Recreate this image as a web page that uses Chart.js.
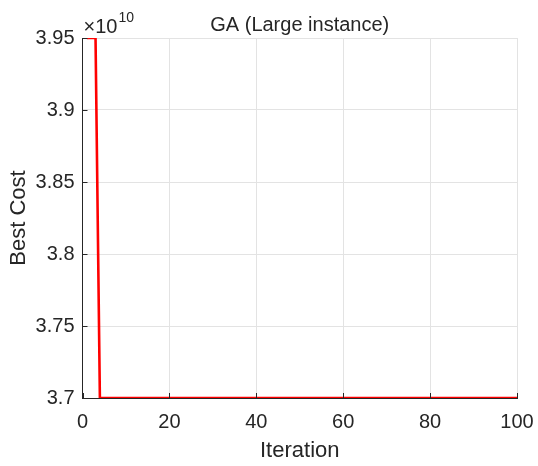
<!DOCTYPE html>
<html lang="en">
<head>
  <meta charset="UTF-8">
  <title>GA (Large instance)</title>
  <script src="https://cdn.jsdelivr.net/npm/chart.js"></script>
  <style>
    html, body { margin: 0; padding: 0; background: #fff; }
    #gaChart { display: block; }
  </style>
</head>
<body>
  <canvas id="gaChart" width="538" height="466"></canvas>

  <script>
    // Best cost per iteration (values in units of 1e10)
    const iterations = [
      1, 2, 3, 4, 5, 6, 7, 8, 9, 10, 11, 12, 13, 14, 15, 16, 17, 18, 19, 20,
      21, 22, 23, 24, 25, 26, 27, 28, 29, 30, 31, 32, 33, 34, 35, 36, 37, 38, 39, 40,
      41, 42, 43, 44, 45, 46, 47, 48, 49, 50, 51, 52, 53, 54, 55, 56, 57, 58, 59, 60,
      61, 62, 63, 64, 65, 66, 67, 68, 69, 70, 71, 72, 73, 74, 75, 76, 77, 78, 79, 80,
      81, 82, 83, 84, 85, 86, 87, 88, 89, 90, 91, 92, 93, 94, 95, 96, 97, 98, 99, 100
    ];
    const bestCost = [
      3.95, 3.95, 3.95, 3.70, 3.70, 3.70, 3.70, 3.70, 3.70, 3.70,
      3.70, 3.70, 3.70, 3.70, 3.70, 3.70, 3.70, 3.70, 3.70, 3.70,
      3.70, 3.70, 3.70, 3.70, 3.70, 3.70, 3.70, 3.70, 3.70, 3.70,
      3.70, 3.70, 3.70, 3.70, 3.70, 3.70, 3.70, 3.70, 3.70, 3.70,
      3.70, 3.70, 3.70, 3.70, 3.70, 3.70, 3.70, 3.70, 3.70, 3.70,
      3.70, 3.70, 3.70, 3.70, 3.70, 3.70, 3.70, 3.70, 3.70, 3.70,
      3.70, 3.70, 3.70, 3.70, 3.70, 3.70, 3.70, 3.70, 3.70, 3.70,
      3.70, 3.70, 3.70, 3.70, 3.70, 3.70, 3.70, 3.70, 3.70, 3.70,
      3.70, 3.70, 3.70, 3.70, 3.70, 3.70, 3.70, 3.70, 3.70, 3.70,
      3.70, 3.70, 3.70, 3.70, 3.70, 3.70, 3.70, 3.70, 3.70, 3.70
    ];
    const xTicks = [0, 20, 40, 60, 80, 100];
    const yTicks = [3.7, 3.75, 3.8, 3.85, 3.9, 3.95];
    const scaleFactor = 1e10;

    const FONT = '"Liberation Sans", Arial, Helvetica, sans-serif';
    const INK = '#262626';
    const GRID = '#e3e3e3';

    const points = iterations.map((it, i) => ({ x: it, y: bestCost[i] * scaleFactor }));

    // MATLAB-like decorations: inward ticks, title, exponent, axis labels
    const matlabAxes = {
      id: 'matlabAxes',
      afterDraw(chart) {
        const { ctx, chartArea: a, scales: { x, y } } = chart;
        ctx.save();
        ctx.strokeStyle = INK;
        ctx.lineWidth = 1;
        ctx.beginPath();
        xTicks.forEach(v => {
          const px = Math.round(x.getPixelForValue(v)) + 0.5;
          ctx.moveTo(px, a.bottom);
          ctx.lineTo(px, a.bottom - 5);
        });
        yTicks.forEach(v => {
          const py = Math.round(y.getPixelForValue(v * scaleFactor)) + 0.5;
          ctx.moveTo(a.left, py);
          ctx.lineTo(a.left + 5, py);
        });
        ctx.stroke();

        ctx.fillStyle = INK;
        ctx.textAlign = 'center';
        ctx.textBaseline = 'alphabetic';
        ctx.font = '20px ' + FONT;
        ctx.fillText('GA (Large instance)', (a.left + a.right) / 2, 31);

        ctx.font = '22px ' + FONT;
        ctx.fillText('Iteration', (a.left + a.right) / 2, 457);
        ctx.save();
        ctx.translate(25, (a.top + a.bottom) / 2);
        ctx.rotate(-Math.PI / 2);
        ctx.fillText('Best Cost', 0, 0);
        ctx.restore();

        // exponent label
        ctx.textAlign = 'left';
        ctx.font = '20px ' + FONT;
        ctx.fillText('\u00d710', a.left + 1, 33);
        const w = ctx.measureText('\u00d710').width;
        ctx.font = '14px ' + FONT;
        ctx.fillText('10', a.left + 1 + w + 1, 22);
        ctx.restore();
      }
    };

    new Chart(document.getElementById('gaChart'), {
      type: 'line',
      data: {
        datasets: [{
          label: 'Best Cost',
          data: points,
          borderColor: '#ff0000',
          borderWidth: 2.6,
          pointRadius: 0,
          tension: 0,
          fill: false
        }]
      },
      options: {
        responsive: false,
        animation: false,
        layout: { padding: { left: 0, right: 21, top: 38, bottom: 0 } },
        plugins: {
          legend: { display: false },
          title: { display: false },
          tooltip: { enabled: false }
        },
        scales: {
          x: {
            type: 'linear',
            min: 0,
            max: 100,
            afterFit: s => { s.height = 68; s.paddingLeft = 0; s.paddingRight = 0; },
            afterBuildTicks: s => { s.ticks = xTicks.map(v => ({ value: v })); },
            ticks: {
              color: INK,
              font: { family: FONT, size: 20 },
              padding: 12,
              maxRotation: 0
            },
            grid: { color: GRID, drawTicks: false },
            border: { color: INK, width: 1 }
          },
          y: {
            type: 'linear',
            min: yTicks[0] * scaleFactor,
            max: yTicks[yTicks.length - 1] * scaleFactor,
            afterFit: s => { s.width = 82.5; s.paddingTop = 0; s.paddingBottom = 0; },
            afterBuildTicks: s => { s.ticks = yTicks.map(v => ({ value: v * scaleFactor })); },
            ticks: {
              color: INK,
              font: { family: FONT, size: 20 },
              padding: 8,
              callback: v => String(parseFloat((v / scaleFactor).toFixed(2)))
            },
            grid: { color: GRID, drawTicks: false },
            border: { color: INK, width: 1 }
          }
        }
      },
      plugins: [matlabAxes]
    });
  </script>
</body>
</html>
